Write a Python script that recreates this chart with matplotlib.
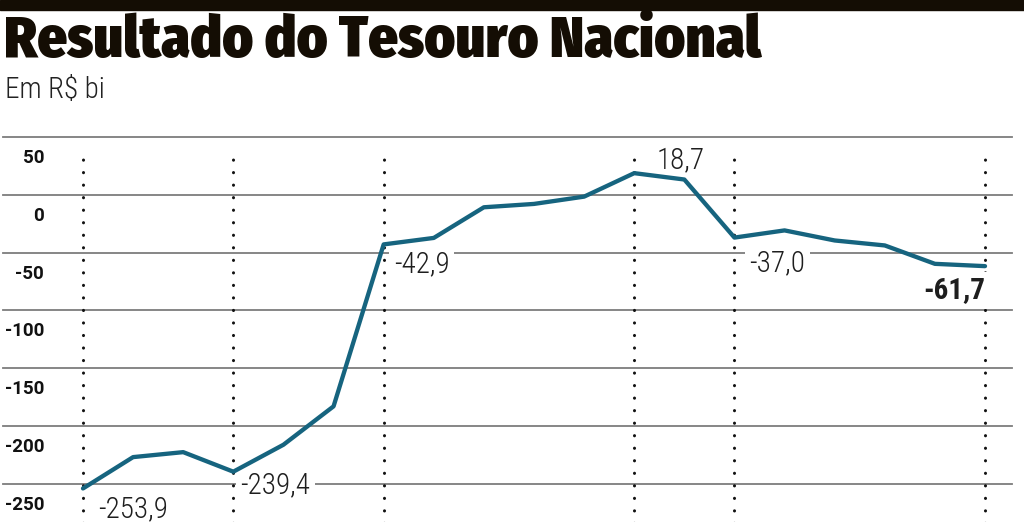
import matplotlib
matplotlib.use('Agg')
from matplotlib import pyplot as plt

# resultado acumulado, R$ bi
valores = [-253.9, -226.8, -222.5, -239.4, -216.1, -182.9, -42.9, -37.3, -10.8, -7.9,
           -1.6, 18.7, 13.2, -37.0, -30.8, -39.5, -43.8, -59.7, -61.7]
marcos = [0, 3, 6, 11, 13, 18]
rotulos = {0: "-253,9", 3: "-239,4", 6: "-42,9", 11: "18,7", 13: "-37,0", 18: "-61,7"}
yticks = [50, 0, -50, -100, -150, -200, -250]
ytick_labels = ["50", "0", "-50", "-100", "-150", "-200", "-250"]

AZUL = '#16647f'
CINZA = '#7d7d7d'
LEVE = ['Roboto Condensed', 'DejaVu Sans']
TITULO = ['Fira Sans Condensed', 'Roboto Condensed', 'DejaVu Sans']

fig = plt.figure(figsize=(10.24, 5.22), dpi=100)
ax = fig.add_axes([0, 0, 1, 1])
ax.set_xlim(-1.656, 18.778)
ax.set_ylim(-282.9, 168.4)
ax.axis('off')

# faixa preta no topo
fig.patches.append(plt.Rectangle((0, 1 - 10 / 522), 1, 10 / 522, transform=fig.transFigure,
                                 color='#140d04', zorder=0))

fig.text(4 / 1024, 1 - 57 / 522, "Resultado do Tesouro Nacional", family=TITULO,
         weight=900, fontsize=42, color='#140d04', va='baseline', ha='left')
fig.text(5 / 1024, 1 - 98 / 522, "Em R$ bi", family=LEVE, weight=300,
         fontsize=21, color='#222222', va='baseline', ha='left')

# linhas de grade e rotulos do eixo
for v, lab in zip(yticks, ytick_labels):
    ax.axhline(v, xmin=3 / 1024, xmax=1012 / 1024, color=CINZA, lw=1.3, zorder=1)
    ax.annotate(lab, (44 / 1024, v), xycoords=('axes fraction', 'data'),
                xytext=(0, -21), textcoords='offset pixels', ha='right', va='center',
                family=['Roboto', 'DejaVu Sans'], weight='bold', fontsize=13.5, color='#111111')

# linhas pontilhadas verticais
for i in marcos:
    ax.plot([i, i], [-290, 37], color='#111111', lw=2.2, linestyle=(0, (0.05, 4.05)),
            dash_capstyle='round', zorder=2)

ax.plot(range(len(valores)), valores, color=AZUL, lw=3.1, solid_joinstyle='round',
        solid_capstyle='round', zorder=4)

offsets = {0: (15, -21), 3: (7, -14), 6: (10, -20), 11: (22, 13), 13: (15, -26), 18: (0, -24)}
for i, txt in rotulos.items():
    dx, dy = offsets[i]
    final = i == len(valores) - 1
    ax.annotate(txt, (i, valores[i]), xytext=(dx, dy), textcoords='offset pixels',
                ha='right' if final else 'left', va='center', family=LEVE,
                weight='bold' if final else 300, fontsize=21, color='#1e1e1e', zorder=3,
                bbox=dict(boxstyle='square,pad=0.15', fc='white', ec='none'))

fig.savefig('out.png', dpi=100)
